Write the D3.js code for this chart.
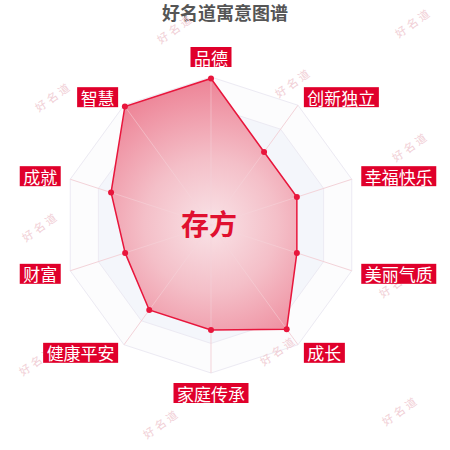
<!DOCTYPE html>
<html><head><meta charset="utf-8">
<script src="https://cdn.jsdelivr.net/npm/d3@7/dist/d3.min.js"></script>
<style>html,body{margin:0;padding:0;background:#fff;}svg{display:block;font-family:"Noto Sans CJK SC","Noto Sans",sans-serif;}</style>
</head><body>
<svg id="c" width="450" height="450"></svg>
<script>
const categories = ["品德","创新独立","幸福快乐","美丽气质","成长","家庭传承","健康平安","财富","成就","智慧"];
const values = [99, 61, 61, 61, 87, 71, 71, 61, 71, 99];
const levels = [20, 40, 60, 80, 100];
const maxValue = 100;
const title = "好名道寓意图谱";
const centerName = "存方";
const watermarkPos = [[175,28],[413,22],[53,96],[293,82],[410,146],[40,226],[397,282],[278,350],[37,360],[161,423],[400,410]];

const svg = d3.select("#c");
const cx = 211, cy = 225, R = 148;
const n = categories.length;
const r = d3.scaleLinear().domain([0, maxValue]).range([0, R]);
const ang = d3.scaleLinear().domain([0, n]).range([0, 2 * Math.PI]);
const pt = (i, v) => [cx + r(v) * Math.sin(ang(i)), cy - r(v) * Math.cos(ang(i))];

const defs = svg.append("defs");
const grad = defs.append("radialGradient").attr("id", "fillg")
  .attr("gradientUnits", "userSpaceOnUse").attr("cx", 0).attr("cy", 0).attr("r", R);
grad.append("stop").attr("offset", "0").attr("stop-color", "#f9e3e7");
grad.append("stop").attr("offset", "0.45").attr("stop-color", "#f4bfc8");
grad.append("stop").attr("offset", "1").attr("stop-color", "#ed8295");

// title
svg.append("text").attr("x", 225).attr("y", 20).attr("text-anchor", "middle")
  .attr("font-size", 18).attr("font-weight", "bold").attr("fill", "#555").text(title);

// split areas
const ringFill = ["#fcfcfd", "#f4f6fb", "#fcfcfd", "#f4f6fb", "#fcfcfd"];
const g = svg.append("g");
[...levels].reverse().forEach((lv, k) => {
  const pts = d3.range(n).map(i => pt(i, lv));
  g.append("polygon").attr("points", pts.map(p => p.join(",")).join(" "))
    .attr("fill", ringFill[k]).attr("stroke", "#eceaf3").attr("stroke-width", 1);
});
// axis lines
d3.range(n).forEach(i => {
  const p = pt(i, maxValue);
  g.append("line").attr("x1", cx).attr("y1", cy).attr("x2", p[0]).attr("y2", p[1])
    .attr("stroke", "#f3d3d9").attr("stroke-width", 1);
});

// watermarks
watermarkPos.forEach(([x, y]) => {
  svg.append("text").attr("transform", `translate(${x},${y}) rotate(-35)`)
    .attr("text-anchor", "middle").attr("dominant-baseline", "central")
    .attr("font-size", 11).attr("letter-spacing", 3).attr("fill", "#f1cfd6").text("好名道");
});

// data area
const line = d3.lineRadial().angle((d, i) => ang(i)).radius(d => r(d)).curve(d3.curveLinearClosed);
const area = svg.append("g").attr("transform", `translate(${cx},${cy})`);
area.append("path").attr("d", line(values)).attr("fill", "url(#fillg)")
  .attr("stroke", "#e8163c").attr("stroke-width", 1.5);
// faint axis lines over fill
d3.range(n).forEach(i => {
  const p = pt(i, values[i]);
  svg.append("line").attr("x1", cx).attr("y1", cy).attr("x2", p[0]).attr("y2", p[1])
    .attr("stroke", "#f6d6dc").attr("stroke-opacity", 0.5).attr("stroke-width", 1);
});
values.forEach((v, i) => {
  const p = pt(i, v);
  svg.append("circle").attr("cx", p[0]).attr("cy", p[1]).attr("r", 3).attr("fill", "#e8163c");
});

// center name
svg.append("text").attr("x", 209).attr("y", 223).attr("text-anchor", "middle").attr("dominant-baseline", "central")
  .attr("font-size", 28).attr("font-weight", "bold").attr("fill", "#e0102f").text(centerName);

// labels
const fs = 17, padX = 3.5, h = 20;
categories.forEach((c, i) => {
  const a = ang(i);
  const [x, y] = pt(i, maxValue * 158 / 148);
  const w = c.length * fs + 2 * padX;
  const s = Math.sin(a), co = Math.cos(a);
  let bx, by;
  if (Math.abs(s) < 0.01) bx = x - w / 2; else if (s > 0) bx = x; else bx = x - w;
  if (Math.abs(s) < 0.01) by = co > 0 ? y - h : y; else by = y - h / 2;
  svg.append("rect").attr("x", bx).attr("y", by).attr("width", w).attr("height", h).attr("fill", "#e0002b");
  svg.append("text").attr("x", bx + w / 2).attr("y", by + h / 2).attr("text-anchor", "middle")
    .attr("dominant-baseline", "central").attr("font-size", fs).attr("fill", "#fff").text(c);
});
</script>
</body></html>
